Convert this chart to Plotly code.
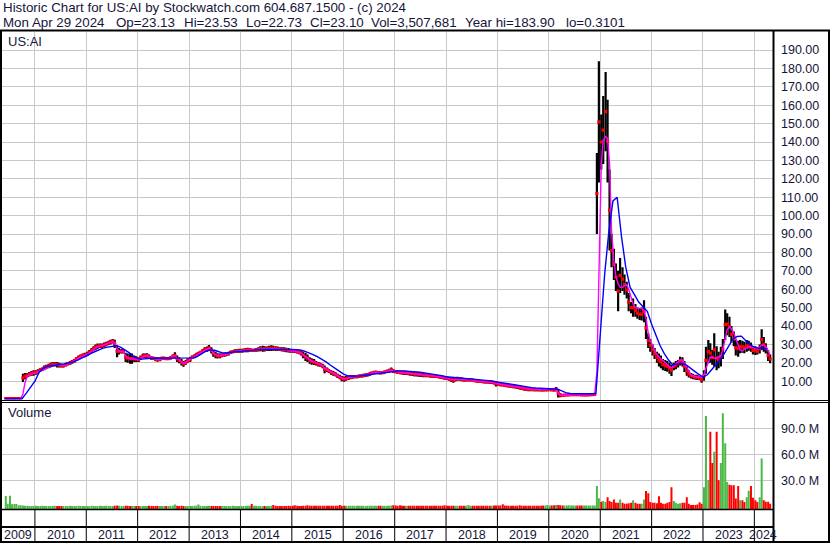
import pandas as pd
import plotly.graph_objects as go

# ---------------- data ----------------
# semi-monthly buckets (1st / 15th of each month), Jun 2009 .. Apr 2024
semi_dates = pd.date_range("2009-06-01", "2024-04-16", freq="SMS")
# monthly points for the long moving average
month_dates = pd.date_range("2009-06-01", "2024-04-01", freq="MS")

price_high = [
    # 2009 (Jun-Dec)
    0.7, 0.7, 0.7, 0.7, 0.7, 0.8, 0.8, 0.8, 14.0, 14.5, 14.5, 15.0, 15.5, 16.0,
    # 2010
    16.0, 16.5, 17.0, 17.5, 18.5, 19.0, 19.5, 20.0, 20.5, 20.5, 20.5, 20.0,
    19.5, 19.5, 20.0, 20.5, 21.0, 21.5, 22.0, 23.0, 24.0, 24.5, 25.0, 25.5,
    # 2011
    26.0, 27.0, 28.0, 29.0, 30.0, 30.5, 30.5, 30.5, 31.0, 31.5, 32.0, 32.5,
    33.0, 32.5, 29.5, 28.0, 27.5, 27.5, 25.5, 25.0, 25.0, 25.0, 24.0, 23.5,
    # 2012
    23.0, 24.0, 25.0, 25.0, 25.2, 24.5, 23.5, 23.3, 23.0, 23.0, 23.0, 23.3,
    23.3, 23.0, 23.0, 23.5, 24.5, 25.7, 24.0, 23.0, 22.0, 21.0, 21.5, 22.5,
    # 2013
    23.0, 24.0, 24.6, 25.5, 26.0, 26.5, 27.5, 28.5, 28.8, 29.7, 28.5, 27.0,
    26.0, 25.2, 25.0, 25.0, 25.5, 25.8, 26.0, 26.5, 27.0, 27.3, 27.5, 27.6,
    # 2014
    27.6, 27.8, 28.0, 28.2, 28.0, 27.6, 27.6, 28.0, 28.5, 29.0, 29.3, 29.0,
    28.8, 29.3, 29.6, 29.3, 29.0, 28.8, 28.5, 28.5, 28.5, 28.2, 28.0, 27.6,
    # 2015
    27.5, 27.3, 27.0, 26.8, 26.5, 26.0, 25.5, 24.5, 23.0, 22.5, 22.0, 21.0,
    20.5, 20.0, 19.5, 18.5, 17.5, 16.5, 16.0, 15.5, 14.8, 14.0, 13.5, 12.8,
    # 2016
    12.5, 12.8, 13.2, 13.4, 13.4, 13.4, 13.4, 13.6, 13.8, 14.0, 14.2, 14.5,
    14.8, 15.2, 15.6, 15.7, 15.5, 15.2, 15.3, 15.8, 16.2, 16.8, 17.4, 16.5,
    # 2017
    16.0, 16.0, 15.8, 15.7, 15.7, 15.7, 15.5, 15.4, 15.3, 15.2, 15.2, 15.0,
    14.8, 14.5, 14.4, 14.3, 14.1, 13.9, 13.7, 13.5, 13.4, 13.2, 13.0, 12.8,
    # 2018
    12.5, 12.3, 12.1, 12.0, 12.2, 12.4, 12.3, 12.0, 11.6, 11.5, 11.5, 11.5,
    11.3, 11.0, 10.8, 10.7, 10.7, 10.6, 10.5, 10.5, 10.4, 10.4, 10.2, 10.0,
    # 2019
    9.5, 9.0, 8.8, 8.6, 8.5, 8.4, 8.3, 8.2, 8.1, 8.0, 7.6, 7.2,
    7.0, 6.8, 6.6, 6.5, 6.4, 6.3, 6.2, 6.1, 6.0, 5.9, 5.8, 5.8,
    # 2020
    6.0, 5.9, 5.8, 6.8, 5.8, 3.5, 3.1, 3.1, 3.0, 3.0, 3.0, 3.1,
    3.1, 3.1, 3.1, 3.0, 3.0, 3.0, 3.0, 3.1, 3.1, 3.2, 134.0, 183.9,
    # 2021
    155.0, 165.0, 178.0, 163.0, 125.0, 90.0, 82.0, 74.0, 70.0, 77.0, 72.0, 68.0,
    64.0, 58.0, 53.0, 55.0, 52.0, 50.0, 49.5, 50.0, 54.0, 45.0, 36.0, 33.0,
    # 2022
    30.0, 28.0, 26.0, 25.0, 24.0, 22.0, 21.5, 21.0, 20.0, 19.0, 20.0, 21.0,
    21.5, 23.3, 23.0, 21.0, 18.0, 16.0, 14.5, 14.0, 13.5, 13.5, 13.0, 12.5,
    # 2023
    16.0, 28.7, 32.4, 30.6, 27.0, 36.0, 29.0, 26.0, 28.7, 33.0, 49.0, 47.0,
    45.0, 40.0, 37.0, 32.4, 32.0, 32.4, 32.0, 31.5, 32.4, 32.0, 31.0, 29.0,
    # 2024 (Jan-Apr)
    29.0, 28.0, 30.0, 38.2, 34.0, 30.6, 27.0, 24.5,
]

price_low = [
    # 2009
    0.3, 0.3, 0.3, 0.3, 0.3, 0.4, 0.4, 0.4, 9.5, 11.0, 12.0, 12.5, 13.0, 13.0,
    # 2010
    13.5, 14.0, 15.0, 15.5, 16.0, 16.5, 17.0, 17.5, 18.0, 18.0, 17.5, 17.5,
    17.5, 17.5, 18.0, 18.5, 19.0, 19.5, 20.0, 21.0, 22.0, 22.5, 23.0, 23.0,
    # 2011
    23.5, 24.5, 25.5, 26.5, 27.0, 27.5, 28.0, 28.0, 28.5, 29.0, 29.5, 30.0,
    30.5, 28.0, 23.0, 24.5, 25.0, 25.0, 20.5, 20.0, 19.5, 19.5, 20.5, 20.5,
    # 2012
    20.5, 21.5, 22.5, 22.5, 22.7, 22.0, 21.5, 21.5, 20.8, 20.6, 20.8, 21.5,
    21.5, 21.5, 21.5, 21.8, 22.5, 22.5, 20.5, 19.7, 18.5, 17.9, 19.0, 20.0,
    # 2013
    20.5, 22.0, 22.5, 23.0, 23.7, 24.5, 25.5, 26.0, 26.0, 26.5, 25.0, 23.3,
    22.5, 22.4, 22.5, 23.0, 23.3, 23.5, 24.0, 24.8, 25.2, 25.3, 25.5, 25.5,
    # 2014
    25.5, 25.6, 25.7, 25.8, 26.0, 26.0, 26.0, 26.0, 26.2, 26.3, 26.0, 26.2,
    26.4, 26.4, 26.4, 26.5, 26.4, 26.4, 26.4, 26.2, 26.0, 25.8, 25.6, 25.5,
    # 2015
    25.5, 25.3, 25.0, 24.6, 24.0, 22.5, 21.0, 20.5, 19.5, 19.0, 18.8, 18.5,
    18.0, 17.9, 17.0, 14.3, 15.0, 14.5, 13.4, 13.0, 12.5, 11.8, 11.0, 10.0,
    # 2016
    9.7, 10.2, 10.7, 11.0, 11.4, 11.6, 11.6, 11.8, 12.0, 12.1, 12.3, 12.6,
    13.0, 13.5, 13.9, 14.0, 13.9, 13.8, 13.9, 14.2, 14.5, 14.7, 15.0, 14.5,
    # 2017
    14.3, 14.0, 13.8, 13.6, 13.4, 13.4, 13.2, 13.0, 12.8, 12.6, 12.5, 12.4,
    12.3, 12.2, 12.1, 12.1, 12.0, 11.9, 11.8, 11.7, 11.6, 11.3, 11.0, 10.8,
    # 2018
    10.7, 10.2, 9.5, 9.2, 9.8, 10.3, 10.3, 10.0, 9.8, 10.0, 10.0, 10.0,
    9.8, 9.5, 9.3, 9.1, 9.0, 8.9, 8.8, 8.7, 8.5, 8.5, 8.2, 7.1,
    # 2019
    7.5, 7.3, 7.2, 7.0, 6.8, 6.6, 6.4, 6.2, 6.0, 5.7, 5.5, 5.2,
    5.0, 4.8, 4.6, 4.6, 4.6, 4.6, 4.6, 4.6, 4.6, 4.6, 4.7, 4.7,
    # 2020
    4.7, 4.7, 4.6, 4.6, 1.2, 1.3, 1.6, 1.8, 2.0, 2.2, 2.3, 2.4,
    2.4, 2.3, 2.2, 2.2, 2.2, 2.2, 2.2, 2.3, 2.3, 2.4, 90.0, 118.0,
    # 2021
    125.0, 128.0, 135.0, 118.0, 81.0, 72.0, 65.0, 59.0, 48.0, 58.0, 59.0, 57.0,
    55.0, 48.0, 47.0, 45.0, 45.0, 44.0, 43.3, 43.0, 42.0, 33.0, 28.0, 26.0,
    # 2022
    24.0, 22.0, 20.0, 18.0, 17.0, 16.0, 15.5, 15.2, 14.0, 12.8, 16.0, 16.5,
    17.5, 18.5, 18.0, 15.0, 13.0, 12.0, 11.5, 11.0, 10.8, 10.7, 10.5, 9.2,
    # 2023
    10.2, 14.0, 19.7, 20.0, 19.0, 18.0, 16.0, 17.0, 18.0, 22.0, 32.4, 35.0,
    34.0, 31.0, 29.0, 24.0, 23.3, 25.2, 25.5, 25.2, 26.0, 26.5, 26.0, 24.5,
    # 2024
    24.2, 24.5, 25.0, 27.0, 26.0, 25.0, 21.0, 19.7,
]

# short (magenta) moving average, semi-monthly
ma_short = [
    # 2009
    0.5, 0.5, 0.5, 0.5, 0.5, 0.5, 0.6, 0.6, 3.0, 9.0, 12.8, 13.5, 14.0, 14.5,
    # 2010
    14.5, 15.0, 15.6, 16.2, 16.8, 17.4, 17.9, 18.4, 18.9, 19.1, 19.0, 18.8,
    18.6, 18.5, 18.8, 19.3, 19.8, 20.3, 20.8, 21.6, 22.6, 23.2, 23.7, 24.1,
    # 2011
    24.5, 25.4, 26.4, 27.4, 28.2, 28.8, 29.1, 29.2, 29.6, 30.1, 30.6, 31.1,
    31.6, 31.0, 27.5, 26.3, 26.2, 26.2, 23.8, 22.8, 22.3, 22.2, 22.2, 22.0,
    # 2012
    21.8, 22.5, 23.4, 23.7, 23.8, 23.4, 22.7, 22.4, 22.0, 21.8, 21.9, 22.2,
    22.4, 22.3, 22.3, 22.6, 23.3, 23.8, 22.6, 21.5, 20.4, 19.7, 20.1, 21.0,
    # 2013
    21.7, 22.7, 23.4, 24.0, 24.7, 25.3, 26.2, 27.0, 27.3, 27.9, 27.0, 25.5,
    24.5, 23.9, 23.8, 24.0, 24.3, 24.6, 24.9, 25.5, 26.0, 26.3, 26.5, 26.5,
    # 2014
    26.5, 26.7, 26.8, 27.0, 27.0, 26.8, 26.8, 27.0, 27.3, 27.6, 27.6, 27.6,
    27.6, 27.8, 27.9, 27.9, 27.7, 27.6, 27.4, 27.3, 27.2, 27.0, 26.8, 26.6,
    # 2015
    26.5, 26.3, 26.0, 25.7, 25.3, 24.4, 23.4, 22.6, 21.5, 20.9, 20.5, 19.9,
    19.4, 19.0, 18.4, 16.9, 16.3, 15.6, 14.9, 14.3, 13.7, 13.0, 12.3, 11.6,
    # 2016
    11.2, 11.5, 11.9, 12.2, 12.4, 12.5, 12.5, 12.7, 12.9, 13.0, 13.2, 13.5,
    13.9, 14.3, 14.7, 14.8, 14.7, 14.5, 14.6, 15.0, 15.3, 15.7, 16.1, 15.6,
    # 2017
    15.2, 15.0, 14.8, 14.7, 14.6, 14.5, 14.4, 14.2, 14.1, 13.9, 13.8, 13.7,
    13.6, 13.4, 13.3, 13.2, 13.1, 12.9, 12.8, 12.6, 12.5, 12.3, 12.0, 11.8,
    # 2018
    11.6, 11.3, 10.9, 10.7, 10.9, 11.2, 11.3, 11.0, 10.8, 10.7, 10.7, 10.7,
    10.6, 10.3, 10.1, 9.9, 9.8, 9.7, 9.6, 9.6, 9.5, 9.4, 9.2, 8.8,
    # 2019
    8.5, 8.2, 8.0, 7.8, 7.7, 7.5, 7.4, 7.2, 7.0, 6.9, 6.6, 6.3,
    6.0, 5.8, 5.6, 5.5, 5.5, 5.4, 5.4, 5.3, 5.3, 5.3, 5.3, 5.3,
    # 2020
    5.3, 5.3, 5.3, 5.5, 3.5, 2.4, 2.4, 2.4, 2.5, 2.6, 2.7, 2.7,
    2.7, 2.7, 2.6, 2.6, 2.6, 2.6, 2.6, 2.7, 2.7, 2.7, 15.0, 75.0,
    # 2021
    128.0, 141.0, 143.0, 142.0, 128.0, 92.0, 75.0, 67.0, 63.0, 61.0, 61.0, 62.0,
    62.5, 60.0, 55.0, 52.0, 50.0, 49.6, 49.6, 49.5, 48.5, 44.0, 36.0, 32.0,
    # 2022
    29.5, 26.5, 24.5, 23.0, 22.0, 21.3, 20.0, 18.8, 17.9, 17.2, 18.5, 19.7,
    20.5, 21.5, 21.5, 19.5, 17.5, 15.2, 13.5, 12.8, 12.5, 12.4, 12.3, 12.2,
    # 2023
    13.5, 17.0, 21.0, 23.0, 23.0, 22.5, 22.5, 23.0, 24.0, 27.0, 33.0, 38.0,
    39.6, 38.5, 36.0, 33.0, 29.0, 27.0, 26.5, 27.5, 28.0, 28.5, 28.8, 28.3,
    # 2024
    27.9, 27.5, 28.5, 29.7, 29.5, 28.8, 26.5, 24.2,
]

# long (blue) moving average, monthly
ma_long = [
    0.5, 0.5, 0.5, 0.5, 0.5, 3.5, 6.5,                                   # 2009
    10.0, 15.0, 17.0, 18.0, 18.5, 19.0, 19.2, 19.4, 19.8, 20.5, 21.5, 22.5,  # 2010
    23.9, 25.0, 26.0, 27.0, 28.0, 28.5, 29.0, 29.3, 28.5, 27.0, 25.5, 23.5,  # 2011
    22.3, 22.0, 22.3, 22.5, 22.5, 22.5, 22.3, 22.3, 22.3, 22.5, 22.5, 22.3,  # 2012
    22.3, 22.7, 23.5, 24.8, 26.3, 27.0, 26.8, 26.0, 25.3, 25.3, 25.8, 26.2,  # 2013
    26.2, 26.5, 26.7, 27.0, 27.2, 27.3, 27.3, 27.4, 27.4, 27.3, 27.2, 27.0,  # 2014
    27.3, 27.2, 27.0, 26.3, 25.5, 24.5, 23.3, 22.0, 20.5, 18.8, 17.0, 15.6,  # 2015
    14.0, 12.9, 12.7, 12.7, 12.9, 13.2, 13.5, 13.9, 14.3, 14.6, 15.0, 15.3,  # 2016
    15.5, 15.6, 15.6, 15.5, 15.4, 15.2, 14.9, 14.5, 14.2, 13.8, 13.4, 13.0,  # 2017
    12.4, 12.2, 12.0, 11.9, 11.7, 11.5, 11.4, 11.2, 10.9, 10.6, 10.3, 9.9,   # 2018
    9.6, 9.2, 8.9, 8.5, 8.1, 7.7, 7.2, 6.8, 6.5, 6.3, 6.1, 6.0,              # 2019
    5.9, 5.8, 5.8, 4.8, 3.8, 3.3, 3.2, 3.2, 3.2, 3.2, 3.2, 3.3,              # 2020
    36.0, 68.0, 90.0, 108.0, 110.0, 88.5, 72.0, 61.0, 57.0, 53.0, 50.5, 48.0,  # 2021
    41.0, 35.0, 29.5, 25.0, 21.5, 18.8, 19.3, 19.7, 19.0, 17.5, 15.5, 13.8,  # 2022
    12.3, 13.5, 16.0, 18.5, 21.5, 25.0, 29.0, 32.8, 34.3, 34.5, 32.0, 29.8,  # 2023
    28.5, 27.9, 27.9, 27.5,                                              # 2024
]

# volume in millions of shares, semi-monthly (largest session in the bucket)
volume_m = [
    # 2009
    11.9, 3.0, 12.2, 2.5, 2.7, 2.7, 1.2, 1.2, 1.0, 0.6, 0.6, 0.5, 0.5, 0.5,
    # 2010
    0.6, 0.5, 0.5, 0.6, 0.5, 0.5, 0.4, 0.5, 0.5, 0.6, 0.5, 0.5,
    0.4, 0.5, 0.5, 0.5, 0.6, 0.5, 0.5, 0.5, 0.6, 0.5, 0.5, 0.5,
    # 2011
    0.5, 0.5, 0.6, 0.5, 0.5, 0.5, 0.6, 0.5, 0.5, 0.6, 0.7, 0.5,
    0.5, 0.6, 0.9, 0.6, 0.5, 0.5, 0.7, 0.6, 0.5, 0.5, 0.5, 0.5,
    # 2012
    0.5, 0.5, 0.5, 0.5, 0.5, 0.6, 0.5, 0.5, 0.5, 0.5, 0.5, 0.5,
    0.5, 0.5, 0.5, 0.6, 0.7, 2.0, 0.6, 0.5, 0.6, 0.5, 0.5, 0.5,
    # 2013
    0.5, 0.5, 0.6, 0.7, 2.0, 0.6, 0.5, 0.5, 0.5, 0.6, 0.5, 0.5,
    0.5, 0.5, 0.5, 0.5, 0.5, 0.5, 0.5, 0.5, 0.6, 0.5, 0.5, 0.5,
    # 2014
    0.5, 0.5, 0.5, 0.6, 0.6, 2.6, 0.7, 0.6, 0.5, 0.5, 0.5, 0.5,
    0.5, 0.5, 0.6, 1.5, 0.6, 0.5, 0.5, 0.5, 0.5, 0.5, 0.6, 0.5,
    # 2015
    0.6, 1.2, 0.6, 0.5, 0.5, 0.6, 0.7, 1.2, 0.6, 0.6, 0.6, 0.6,
    0.6, 0.6, 0.7, 0.7, 0.7, 0.7, 0.6, 0.6, 0.6, 0.7, 1.5, 0.7,
    # 2016
    0.6, 0.6, 0.6, 0.6, 0.6, 0.6, 0.6, 0.6, 0.6, 0.6, 0.5, 0.6,
    0.6, 0.6, 0.6, 0.6, 0.6, 0.6, 0.6, 0.6, 0.6, 0.6, 1.0, 1.2,
    # 2017
    0.8, 0.7, 1.3, 0.6, 0.6, 0.6, 0.6, 0.6, 0.6, 0.6, 0.6, 0.6,
    0.6, 0.6, 0.6, 0.6, 0.6, 0.6, 0.6, 0.6, 0.6, 0.6, 0.6, 1.2,
    # 2018
    0.7, 0.6, 0.6, 0.6, 0.6, 0.7, 0.6, 0.6, 0.6, 0.6, 1.5, 0.7,
    0.6, 0.6, 0.6, 0.6, 0.6, 0.6, 0.6, 0.6, 0.7, 0.7, 0.8, 1.0,
    # 2019
    0.9, 0.8, 2.5, 0.8, 0.7, 0.7, 0.7, 0.7, 0.7, 0.7, 1.2, 0.7,
    0.7, 0.7, 0.7, 0.7, 0.7, 0.7, 0.7, 0.7, 0.7, 0.8, 0.9, 1.5,
    # 2020
    0.9, 0.9, 1.2, 1.5, 1.5, 1.3, 1.0, 0.9, 0.8, 1.2, 0.8, 0.8,
    0.8, 0.8, 0.8, 0.8, 0.8, 0.8, 0.8, 0.8, 0.8, 0.8, 23.4, 9.2,
    # 2021
    5.4, 6.0, 5.0, 10.4, 6.0, 5.0, 8.0, 4.0, 4.0, 8.0, 4.0, 3.0,
    3.0, 3.5, 4.0, 6.9, 4.0, 3.0, 3.0, 3.0, 8.0, 17.6, 15.0, 5.0,
    # 2022
    4.0, 4.0, 3.5, 11.5, 4.0, 3.0, 3.0, 4.0, 5.0, 21.9, 6.0, 4.0,
    3.0, 3.5, 4.0, 4.0, 10.4, 3.0, 1.5, 1.5, 1.5, 2.0, 4.6, 3.0,
    # 2023
    21.9, 104.2, 30.4, 86.0, 50.0, 63.0, 86.0, 30.0, 50.0, 107.3, 72.7, 28.0,
    25.0, 24.4, 24.4, 9.0, 23.4, 7.0, 7.0, 5.0, 10.4, 18.0, 23.4, 10.0,
    # 2024
    7.0, 5.0, 10.4, 55.3, 7.0, 5.4, 5.4, 3.0,
]

year_labels = [str(y) for y in range(2009, 2025)]
price_tickvals = [10, 20, 30, 40, 50, 60, 70, 80, 90, 100,
                  110, 120, 130, 140, 150, 160, 170, 180, 190]
price_ticktext = ["%.2f" % v for v in price_tickvals]
volume_tickvals = [30, 60, 90]
volume_ticktext = ["30.0 M", "60.0 M", "90.0 M"]

header_line1 = "Historic Chart for US:AI by Stockwatch.com 604.687.1500 - (c) 2024"
header_fields = ["Mon Apr 29 2024", "Op=23.13", "Hi=23.53", "Lo=22.73",
                 "Cl=23.10", "Vol=3,507,681", "Year hi=183.90", "lo=0.3101"]

n = len(semi_dates)
for name, arr in [("price_high", price_high), ("price_low", price_low),
                  ("ma_short", ma_short), ("volume_m", volume_m)]:
    if len(arr) != n:
        raise SystemExit(f"{name}: {len(arr)} != {n}")
if len(ma_long) != len(month_dates):
    raise SystemExit(f"ma_long: {len(ma_long)} != {len(month_dates)}")

# ---------------- styling ----------------
W, H = 830, 543
FONT = "Arial, Liberation Sans, sans-serif"
TEXT = "#15153a"
GRID = "#c8c8c8"
GREEN = "#4cb848"
RED = "#ff0000"
X_RANGE = ["2009-05-05", "2024-05-09"]
VOL_RANGE = [-3.1, 119.2]
PRICE_RANGE = [0, 199.8]


def fx(px):
    return px / W


def fy(px):
    return 1 - px / H


mid_dates = semi_dates + pd.Timedelta(days=7)
mids = [(h + l) / 2 for h, l in zip(price_high, price_low)]
up = [True] + [mids[i] >= mids[i - 1] for i in range(1, n)]

fig = go.Figure()

# price bars (high-low)
bx, by = [], []
for d, h, l in zip(mid_dates, price_high, price_low):
    bx += [d, d, None]
    by += [l, h, None]
fig.add_trace(go.Scatter(x=bx, y=by, mode="lines",
                         line=dict(color="black", width=2.2),
                         hoverinfo="skip", xaxis="x", yaxis="y"))
# close ticks
fig.add_trace(go.Scatter(x=mid_dates, y=mids, mode="markers",
                         marker=dict(symbol="square", size=3.2, color=RED,
                                     line=dict(width=0)),
                         hoverinfo="skip", xaxis="x", yaxis="y"))
# moving averages
fig.add_trace(go.Scatter(x=mid_dates, y=ma_short, mode="lines",
                         line=dict(color="#ff00ff", width=1.4),
                         hoverinfo="skip", xaxis="x", yaxis="y"))
fig.add_trace(go.Scatter(x=month_dates, y=ma_long, mode="lines",
                         line=dict(color="#0000ff", width=1.4),
                         hoverinfo="skip", xaxis="x", yaxis="y"))

# volume bars
for flag, col in [(True, GREEN), (False, RED)]:
    vx, vy = [], []
    for d, v, u in zip(mid_dates, volume_m, up):
        if u == flag:
            vx += [d, d, None]
            vy += [VOL_RANGE[0], v, None]
    fig.add_trace(go.Scatter(x=vx, y=vy, mode="lines",
                             line=dict(color=col, width=2.0),
                             hoverinfo="skip", xaxis="x2", yaxis="y2"))

year_starts = [pd.Timestamp(f"{y}-01-01") for y in range(2010, 2025)]

xaxis_common = dict(type="date", range=X_RANGE, domain=[fx(1), fx(772.5)],
                    tickvals=year_starts, showticklabels=False, ticks="",
                    showgrid=True, gridcolor=GRID, gridwidth=1,
                    zeroline=False, showline=False, fixedrange=True)
yaxis_common = dict(side="right", showgrid=True, gridcolor=GRID, gridwidth=1,
                    zeroline=False, showline=False, ticks="outside",
                    ticklen=5, tickcolor="rgba(0,0,0,0)", fixedrange=True,
                    tickfont=dict(family=FONT, size=12.5, color=TEXT))

fig.update_layout(
    width=W, height=H, margin=dict(l=0, r=0, t=0, b=0),
    paper_bgcolor="white", plot_bgcolor="white", showlegend=False,
    xaxis=dict(anchor="y", **xaxis_common),
    xaxis2=dict(anchor="y2", matches="x", **xaxis_common),
    yaxis=dict(domain=[fy(399.6), fy(32)], range=PRICE_RANGE, anchor="x",
               tickvals=price_tickvals, ticktext=price_ticktext, **yaxis_common),
    yaxis2=dict(domain=[fy(509), fy(403)], range=VOL_RANGE, anchor="x2",
                tickvals=volume_tickvals, ticktext=volume_ticktext, **yaxis_common),
)

shapes = []


def hline(y, x0, x1, w):
    shapes.append(dict(type="line", xref="paper", yref="paper",
                       x0=fx(x0), x1=fx(x1), y0=fy(y), y1=fy(y),
                       line=dict(color="black", width=w)))


def vline(x, y0, y1, w):
    shapes.append(dict(type="line", xref="paper", yref="paper",
                       x0=fx(x), x1=fx(x), y0=fy(y0), y1=fy(y1),
                       line=dict(color="black", width=w)))


hline(30.5, 0, 830, 2)        # under header
hline(400.5, 0, 830, 1)       # price panel bottom (double line)
hline(402.5, 0, 830, 1)
hline(509.5, 0, 773, 1.5)     # volume bottom
hline(527, 0, 773, 2)         # box row bottom
hline(542, 0, 830, 2)         # outer bottom
vline(1, 30, 543, 2)          # left border
vline(829, 30, 543, 2)        # right border
vline(773.5, 30, 543, 2)      # axis separator
for ys in year_starts:
    shapes.append(dict(type="line", xref="x", yref="paper",
                       x0=ys, x1=ys, y0=fy(509.5), y1=fy(542),
                       line=dict(color="black", width=1)))
fig.update_layout(shapes=shapes)

annotations = []


def text(t, xpx, ypx, size=13.33, xanchor="left"):
    annotations.append(dict(text=t, x=fx(xpx), y=fy(ypx), xref="paper",
                            yref="paper", xanchor=xanchor, yanchor="middle",
                            showarrow=False, borderpad=0,
                            font=dict(family=FONT, size=size, color=TEXT)))


text(header_line1, 2, 8)
field_x = [2, 115, 183, 245, 309, 370, 464, 565]
for t, xp in zip(header_fields, field_x):
    text(t, xp, 22.5)
text("US:AI", 7, 41, size=13)
text("Volume", 7, 413, size=13)

# year labels centred in each visible year segment
bounds = [pd.Timestamp(X_RANGE[0])] + year_starts + [pd.Timestamp(X_RANGE[1])]
for lab, a, b in zip(year_labels, bounds[:-1], bounds[1:]):
    c = a + (b - a) / 2
    annotations.append(dict(text=lab, x=c, y=fy(535), xref="x", yref="paper",
                            xanchor="center", yanchor="middle", showarrow=False,
                            borderpad=0,
                            font=dict(family=FONT, size=12.5, color=TEXT)))
fig.update_layout(annotations=annotations)

fig.write_html("out.html", config={"displayModeBar": False},
               post_script="document.body.style.margin='0px';")
